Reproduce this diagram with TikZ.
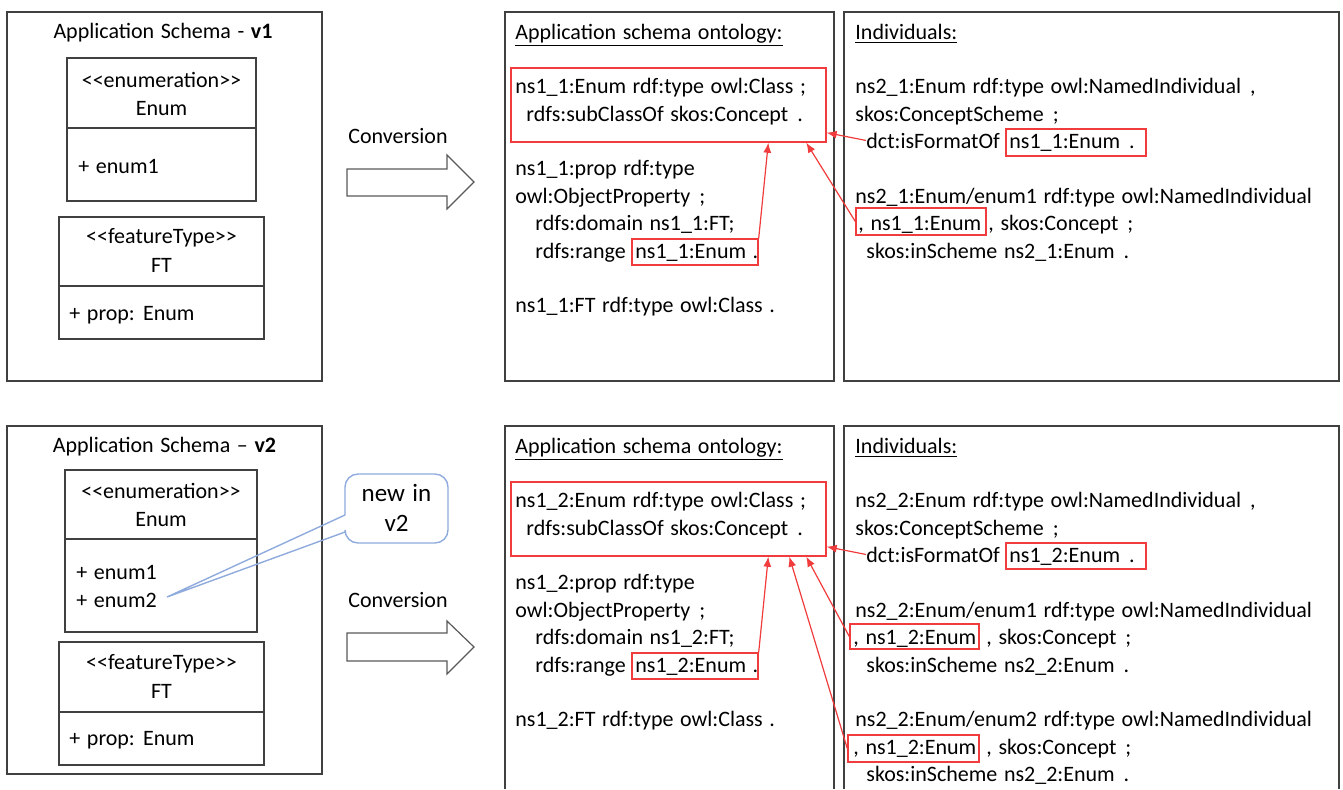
\documentclass[tikz,border=0pt]{standalone}
\usepackage{fontspec}
\setmainfont{Carlito}[WordSpace=1.33]
\usetikzlibrary{
    positioning,  % relative placement
    arrows.meta,  % Latex tips
    fit,          % boxes fitted to coordinates
    calc          % points on the box edges
}
\definecolor{framegray}{RGB}{64,64,64}
\definecolor{markred}{RGB}{240,60,60}
\definecolor{noteblue}{RGB}{143,170,220}
% UML stereotype, kept as two plain angle brackets
\newcommand{\stereotype}[1]{<\kern0pt<#1>\kern0pt>}
% the wider gap before a closing ; , or .
\newcommand{\dsp}{\hspace{4.5pt}}

\begin{document}
\begin{tikzpicture}[
        x=0.5pt, y=-0.5pt,
        font=\fontsize{11}{13.5}\selectfont,
        % Styles
        boxframe/.style={draw=framegray, line width=0.7pt, inner sep=0pt},
        hlbox/.style={draw=markred, line width=0.7pt, inner sep=0pt},
        txt/.style={anchor=base west, inner sep=0pt},
        ctxt/.style={anchor=base, inner sep=0pt},
        link/.style={-{Latex[length=5pt,width=4pt]}, markred, line width=0.6pt},
        bigarrow/.style={draw=gray!70!black, line width=0.6pt, fill=white},
        note/.style={draw=noteblue, line width=0.7pt}
    ]

    \useasboundingbox (0,0) rectangle (1343,789);

    % --- 1. Version 1: UML schema ---
    \node[boxframe, fit={(7,12) (322,381)}] (schema1) {};
    \node[ctxt] (title1) at (163,38) {Application Schema - \textbf{v1}};
    \node[boxframe, fit={(67,58) (256,128)}] (enumhead1) {};
    \node[boxframe, fit={(67,128) (256,201)}] (enumbody1) {};
    \node[ctxt] (stereo1) at (161.5,87) {\stereotype{enumeration}};
    \node[ctxt] (name1) at (161.5,115) {Enum};
    \node[txt] (lit1) at (78,173) {+ enum1};
    \node[boxframe, fit={(59,217) (264,286)}] (fthead1) {};
    \node[boxframe, fit={(59,286) (264,339)}] (ftbody1) {};
    \node[ctxt] (ftstereo1) at (161.5,243) {\stereotype{featureType}};
    \node[ctxt] (ftname1) at (161.5,272) {FT};
    \node[txt] (attr1) at (69,320) {+ prop: Enum};

    % Conversion arrow
    \node[ctxt] (conv1) at (398,143) {Conversion};
    \draw[bigarrow] (347,169) -- (447,169) -- (447,155) -- (474,182)
        -- (447,209) -- (447,196) -- (347,196) -- cycle;

    % --- 2. Version 1: ontology ---
    \node[boxframe, fit={(505,12) (834,381)}] (onto1) {};
    \node[txt] (ontohead1) at (515,39) {\underline{Application schema ontology:}};
    \node[hlbox, fit={(511,68) (826,142)}] (cls1) {};
    \node[txt] (cls1a) at (515,93) {ns1\_1:Enum rdf:type owl:Class ;};
    \node[txt] (cls1b) at (526,121) {rdfs:subClassOf skos:Concept\dsp.};
    \node[txt] (prop1a) at (515,175) {ns1\_1:prop rdf:type};
    \node[txt] (prop1b) at (515,203) {owl:ObjectProperty\dsp;};
    \node[txt] (prop1c) at (535,230) {rdfs:domain ns1\_1:FT;};
    \node[txt] (prop1d) at (535,258) {rdfs:range};
    \node[hlbox, fit={(632,239) (758,265)}] (rng1) {};
    \node[txt] (rng1t) at (635,258) {ns1\_1:Enum .};
    \node[txt] (ft1) at (515,312) {ns1\_1:FT rdf:type owl:Class .};

    % --- 3. Version 1: individuals ---
    \node[boxframe, fit={(844,12) (1339,381)}] (indiv1) {};
    \node[txt] (indivhead1) at (855,39) {\underline{Individuals:}};
    \node[txt] (sch1a) at (855,93) {ns2\_1:Enum rdf:type owl:NamedIndividual\dsp,};
    \node[txt] (sch1b) at (855,121) {skos:ConceptScheme\dsp;};
    \node[txt] (fmt1t) at (866,148) {dct:isFormatOf};
    \node[hlbox, fit={(1006,129) (1146,156)}] (fmt1) {};
    \node[txt] (fmt1v) at (1009,148) {ns1\_1:Enum\dsp.};
    \node[txt] (mem1a) at (855,203) {ns2\_1:Enum/enum1 rdf:type owl:NamedIndividual};
    \node[hlbox, fit={(856,208) (986,235)}] (mem1) {};
    \node[txt] (mem1v) at (858,230) {, ns1\_1:Enum};
    \node[txt] (mem1b) at (988,230) {, skos:Concept\dsp;};
    \node[txt] (mem1c) at (866,258) {skos:inScheme ns2\_1:Enum\dsp.};

    % references to the class
    \draw[link] (rng1.north east) -- ($(cls1.south west)+(258,0)$);
    \draw[link] (fmt1t.west) -- ($(cls1.south east)+(0,-10)$);
    \draw[link] (mem1.west) -- ($(cls1.south west)+(296,0)$);

    % --- 4. Version 2: UML schema ---
    \node[boxframe, fit={(7,426) (322,774)}] (schema2) {};
    \node[ctxt] (title2) at (164.5,452) {Application Schema – \textbf{v2}};
    \node[boxframe, fit={(65,470) (257,539)}] (enumhead2) {};
    \node[boxframe, fit={(65,539) (257,632)}] (enumbody2) {};
    \node[ctxt] (stereo2) at (161,498) {\stereotype{enumeration}};
    \node[ctxt] (name2) at (161,526) {Enum};
    \node[txt] (lit2a) at (76,579) {+ enum1};
    \node[txt] (lit2b) at (76,607) {+ enum2};
    \node[boxframe, fit={(59,642) (264,712)}] (fthead2) {};
    \node[boxframe, fit={(59,712) (264,765)}] (ftbody2) {};
    \node[ctxt] (ftstereo2) at (161.5,669) {\stereotype{featureType}};
    \node[ctxt] (ftname2) at (161.5,698) {FT};
    \node[txt] (attr2) at (69,745) {+ prop: Enum};

    % callout
    \node[align=center, inner sep=0pt, font=\fontsize{12.5}{15}\selectfont]
        (newnote) at (396.5,508) {new in\\v2};
    \coordinate (newtip) at (167,597);
    \draw[note, rounded corners=6.5pt] (345,515) -- (345,474) -- (448,474)
        -- (448,543) -- (345,543) -- (345,532);
    \draw[note] (345,515) -- (newtip) -- (345,532);

    % Conversion arrow
    \node[ctxt] (conv2) at (398,607) {Conversion};
    \draw[bigarrow] (347,633) -- (447,633) -- (447,621) -- (474,647)
        -- (447,674) -- (447,661) -- (347,661) -- cycle;

    % --- 5. Version 2: ontology ---
    \draw[framegray, line width=0.7pt] (505,789) |- (834,426) -- (834,789);
    \node[txt] (ontohead2) at (515,453) {\underline{Application schema ontology:}};
    \node[hlbox, fit={(511,482) (826,556)}] (cls2) {};
    \node[txt] (cls2a) at (515,507) {ns1\_2:Enum rdf:type owl:Class ;};
    \node[txt] (cls2b) at (526,535) {rdfs:subClassOf skos:Concept\dsp.};
    \node[txt] (prop2a) at (515,589) {ns1\_2:prop rdf:type};
    \node[txt] (prop2b) at (515,617) {owl:ObjectProperty\dsp;};
    \node[txt] (prop2c) at (535,644) {rdfs:domain ns1\_2:FT;};
    \node[txt] (prop2d) at (535,672) {rdfs:range};
    \node[hlbox, fit={(632,653) (758,679)}] (rng2) {};
    \node[txt] (rng2t) at (635,672) {ns1\_2:Enum .};
    \node[txt] (ft2) at (515,726) {ns1\_2:FT rdf:type owl:Class .};

    % --- 6. Version 2: individuals ---
    \draw[framegray, line width=0.7pt] (844,789) |- (1339,426) -- (1339,789);
    \node[txt] (indivhead2) at (855,453) {\underline{Individuals:}};
    \node[txt] (sch2a) at (855,507) {ns2\_2:Enum rdf:type owl:NamedIndividual\dsp,};
    \node[txt] (sch2b) at (855,535) {skos:ConceptScheme\dsp;};
    \node[txt] (fmt2t) at (866,562) {dct:isFormatOf};
    \node[hlbox, fit={(1006,543) (1146,569)}] (fmt2) {};
    \node[txt] (fmt2v) at (1009,562) {ns1\_2:Enum\dsp.};
    \node[txt] (mem2a) at (855,617) {ns2\_2:Enum/enum1 rdf:type owl:NamedIndividual};
    \node[hlbox, fit={(850,624) (979,649)}] (mem2) {};
    \node[txt] (mem2v) at (853,644) {, ns1\_2:Enum};
    \node[txt] (mem2b) at (986,644) {, skos:Concept\dsp;};
    \node[txt] (mem2c) at (866,672) {skos:inScheme ns2\_2:Enum\dsp.};
    \node[txt] (mem3a) at (855,726) {ns2\_2:Enum/enum2 rdf:type owl:NamedIndividual};
    \node[hlbox, fit={(848,735) (979,762)}] (mem3) {};
    \node[txt] (mem3v) at (853,754) {, ns1\_2:Enum};
    \node[txt] (mem3b) at (986,754) {, skos:Concept\dsp;};
    \node[txt] (mem3c) at (866,781) {skos:inScheme ns2\_2:Enum\dsp.};

    % references to the class
    \draw[link] (rng2.north east) -- ($(cls2.south west)+(258,0)$);
    \draw[link] (fmt2t.west) -- ($(cls2.south east)+(0,-10)$);
    \draw[link] (mem2.west) -- ($(cls2.south west)+(296,0)$);
    \draw[link] (mem3.west) -- ($(cls2.south west)+(279,0)$);

\end{tikzpicture}
\end{document}
